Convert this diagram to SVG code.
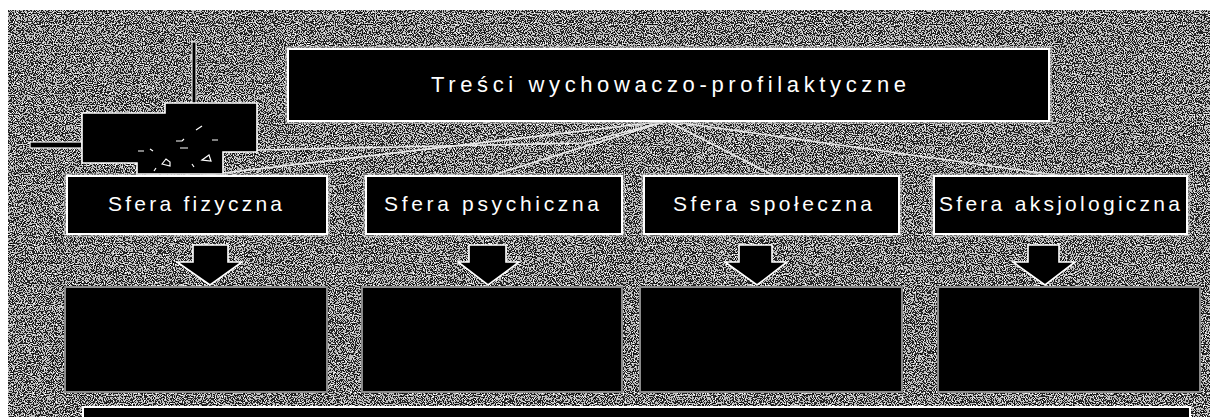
<svg xmlns="http://www.w3.org/2000/svg" width="1210" height="417" viewBox="0 0 1210 417">
  <defs>
    <filter id="grain" x="0" y="0" width="100%" height="100%" color-interpolation-filters="sRGB">
      <feTurbulence type="fractalNoise" baseFrequency="0.9" numOctaves="1" seed="7" result="n"/>
      <feColorMatrix in="n" type="matrix" values="1 0 0 0 0  1 0 0 0 0  1 0 0 0 0  0 0 0 0 1" result="g"/>
      <feComponentTransfer in="g">
        <feFuncR type="discrete" tableValues="0 0 0.15 0.75 1 1"/>
        <feFuncG type="discrete" tableValues="0 0 0.15 0.75 1 1"/>
        <feFuncB type="discrete" tableValues="0 0 0.15 0.75 1 1"/>
      </feComponentTransfer>
    </filter>
  </defs>
  <style>
    .box { fill: #000; stroke: #fff; stroke-width: 2; }
    .halo { fill: none; stroke: #c0c0c0; stroke-width: 6; opacity: 0.5; }
    .lbox { fill: #000; stroke: #8a8a8a; stroke-width: 2; }
    .arrow { fill: #000; stroke: #fff; stroke-width: 1.6; stroke-linejoin: miter; }
    .conn { fill: none; stroke: #e8e8e8; stroke-width: 1.6; }
    .lbl { fill: #fff; font-family: "Liberation Sans", Arial, sans-serif; font-size: 21px; }
    .title { fill: #fff; font-family: "Liberation Sans", Arial, sans-serif; font-size: 22px; }
    .icon { fill: none; stroke: #fff; stroke-width: 1.2; }
  </style>

  <rect x="0" y="0" width="1210" height="417" fill="#fff"/>
  <rect x="8" y="10" width="1202" height="407" fill="#555"/>
  <rect x="8" y="10" width="1202" height="407" filter="url(#grain)"/>

  <g id="connectors">
    <line class="conn" x1="667" y1="121" x2="197" y2="176"/>
    <polyline class="conn" points="257,150 583,143 667,121"/>
    <line class="conn" x1="667" y1="121" x2="490" y2="176"/>
    <line class="conn" x1="667" y1="121" x2="775" y2="176"/>
    <line class="conn" x1="667" y1="121" x2="1063" y2="176"/>
  </g>

  <g id="device">
    <rect x="192" y="42" width="4" height="62" fill="#000" stroke="#fff" stroke-width="1"/>
    <rect x="30" y="142" width="52" height="6" fill="#000" stroke="#fff" stroke-width="1.2"/>
    <polygon points="82,113 165,113 165,103 257,103 257,152 223,152 223,174 137,174 137,163 82,163" fill="#000" stroke="#fff" stroke-width="1.6"/>
    <path class="icon" d="M138,151 h6 M150,149 l3,2 M176,141 h6 l2,-2 M212,140 h6 M180,148 h8 M196,130 l6,-4 M162,164 l4,-5 l4,3 v4 z M202,160 l7,-5 l2,6 z M192,164 l2,3 M156,168 l-2,3"/>
  </g>

  <g id="top-node">
    <rect class="halo" x="288" y="49" width="761" height="72"/>
    <rect class="box" x="288" y="49" width="761" height="72"/>
    <text class="title" x="431" y="92" textLength="475" lengthAdjust="spacing">Treści wychowaczo-profilaktyczne</text>
  </g>

  <g id="sfera-fizyczna">
    <rect class="halo" x="67" y="176" width="260" height="58"/>
    <rect class="box" x="67" y="176" width="260" height="58"/>
    <text class="lbl" x="108" y="211" textLength="174" lengthAdjust="spacing">Sfera fizyczna</text>
  </g>
  <g id="sfera-psychiczna">
    <rect class="halo" x="366" y="176" width="256" height="58"/>
    <rect class="box" x="366" y="176" width="256" height="58"/>
    <text class="lbl" x="384" y="211" textLength="215" lengthAdjust="spacing">Sfera psychiczna</text>
  </g>
  <g id="sfera-spoleczna">
    <rect class="halo" x="644" y="176" width="255" height="58"/>
    <rect class="box" x="644" y="176" width="255" height="58"/>
    <text class="lbl" x="673" y="211" textLength="199" lengthAdjust="spacing">Sfera społeczna</text>
  </g>
  <g id="sfera-aksjologiczna">
    <rect class="halo" x="934" y="176" width="253" height="58"/>
    <rect class="box" x="934" y="176" width="253" height="58"/>
    <text class="lbl" x="939" y="211" textLength="241" lengthAdjust="spacing">Sfera aksjologiczna</text>
  </g>

  <g id="arrows">
    <polygon class="arrow" points="193,245 228,245 228,262 242,262 210,285 177,262 193,262"/>
    <polygon class="arrow" points="469,245 506,245 506,262 519,262 488,285 458,262 469,262"/>
    <polygon class="arrow" points="739,245 772,245 772,262 787,262 757,285 725,262 739,262"/>
    <polygon class="arrow" points="1028,245 1059,245 1059,262 1075,262 1045,285 1013,262 1028,262"/>
  </g>

  <g id="box-fizyczna">
    <rect class="lbox" x="65" y="287" width="262" height="105"/>
  </g>
  <g id="box-psychiczna">
    <rect class="lbox" x="362" y="287" width="260" height="105"/>
  </g>
  <g id="box-spoleczna">
    <rect class="lbox" x="640" y="287" width="262" height="105"/>
  </g>
  <g id="box-aksjologiczna">
    <rect class="lbox" x="938" y="287" width="262" height="105"/>
  </g>

  <g id="bottom-node">
    <rect class="box" x="83" y="407" width="1107" height="20"/>
  </g>
</svg>
